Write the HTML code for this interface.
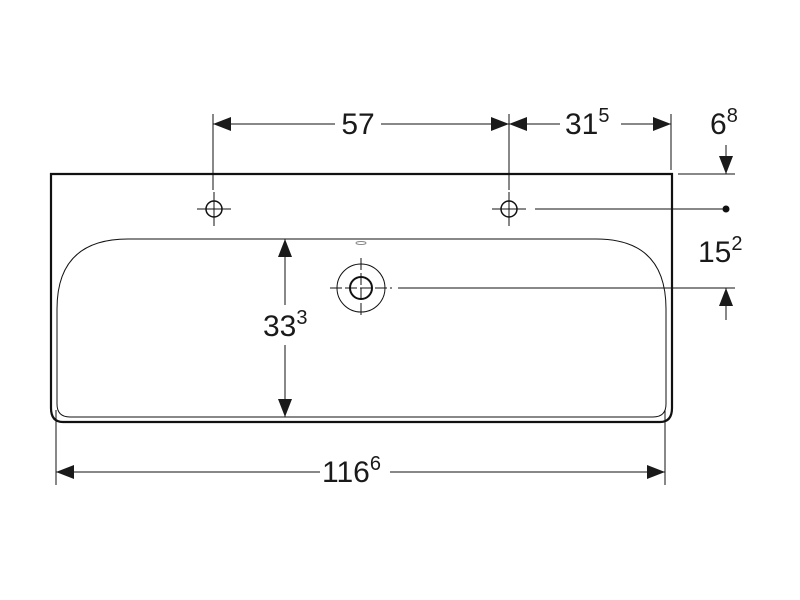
<!DOCTYPE html>
<html><head><style>html,body{margin:0;padding:0;background:#fff}svg{display:block}</style></head>
<body>
<svg width="800" height="600" viewBox="0 0 800 600" xmlns="http://www.w3.org/2000/svg" font-family="Liberation Sans, sans-serif" fill="none" stroke="#111">
<defs>
<marker id="a" viewBox="0 0 18 14" refX="18" refY="7" markerWidth="18" markerHeight="14" markerUnits="userSpaceOnUse" orient="auto-start-reverse"><path d="M0 0L18 7L0 14Z" fill="#1a1a1a" stroke="none"/></marker>
</defs>
<path d="M51 408 V174 H672 V408 Q672 422 660 422 H63 Q51 422 51 408" stroke-width="2.2"/>
<path d="M128 239 H596 Q666 239 666 309 V404 Q666 417 653 417 H70 Q57 417 57 404 V309 Q57 239 128 239 Z" stroke-width="1"/>
<g stroke-width="1.5">
<circle cx="214" cy="209" r="8"/><circle cx="509" cy="209" r="8"/>
</g>
<g stroke-width="1">
<path d="M197 209H231M214 192V226M492 209H526M509 192V226"/>
<circle cx="361" cy="288" r="24"/>
<circle cx="361" cy="288" r="11" stroke-width="2"/>
<path d="M330 288H392M361 258V318" stroke-dasharray="12 3"/>
<ellipse cx="361" cy="243" rx="5" ry="1.5" stroke="#888"/>
<path d="M213 114V190M509 114V190M671 114V170M56 410V485M665 410V485"/>
<path d="M678 174H735M535 209H726M398 288H735"/>
</g>
<circle cx="726" cy="209" r="3.5" fill="#111" stroke="none"/>
<g stroke-width="1">
<path d="M213 124H335" marker-start="url(#a)"/>
<path d="M381 124H509" marker-end="url(#a)"/>
<path d="M509 124H560" marker-start="url(#a)"/>
<path d="M621 124H671" marker-end="url(#a)"/>
<path d="M726 145V174" marker-end="url(#a)"/>
<path d="M726 320V288" marker-end="url(#a)"/>
<path d="M285 239V305" marker-start="url(#a)"/>
<path d="M285 345V417" marker-end="url(#a)"/>
<path d="M56 472H320" marker-start="url(#a)"/>
<path d="M390 472H665" marker-end="url(#a)"/>
</g>
<g fill="#1a1a1a" stroke="none" font-size="30">
<text x="358" y="134" text-anchor="middle">57</text>
<text x="565" y="134">31<tspan font-size="20" dy="-12">5</tspan></text>
<text x="710" y="134">6<tspan font-size="20" dy="-12">8</tspan></text>
<text x="698" y="262">15<tspan font-size="20" dy="-12">2</tspan></text>
<text x="263" y="336">33<tspan font-size="20" dy="-12">3</tspan></text>
<text x="322" y="482">116<tspan font-size="20" dy="-12">6</tspan></text>
</g>
</svg>
</body></html>
